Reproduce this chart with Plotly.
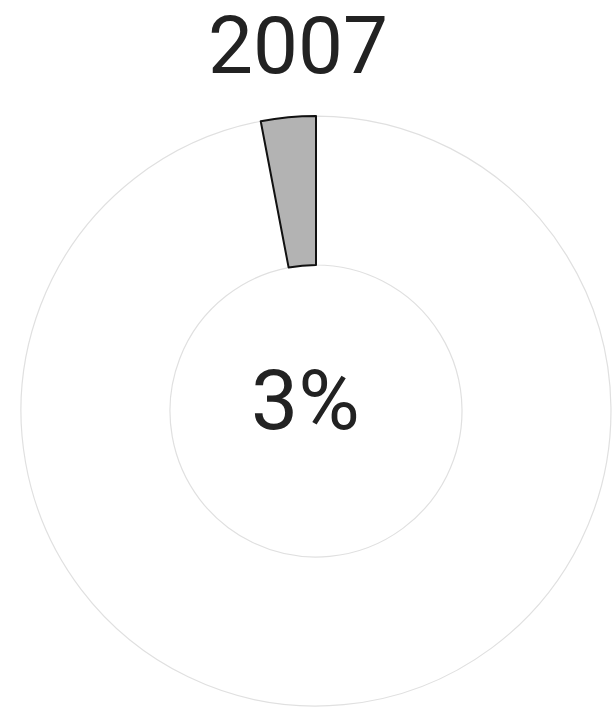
import plotly.graph_objects as go

# Share of the total in 2007 (the rest runs clockwise from 12 o'clock,
# so the share ends up just left of the top)
year = "2007"
labels = ["Rest", "Share"]
values = [97, 3]
center_text = "3%"

fig = go.Figure(
    go.Pie(
        labels=labels,
        values=values,
        hole=0.495,
        sort=False,
        direction="clockwise",
        rotation=0,
        textinfo="none",
        hoverinfo="label+percent",
        marker=dict(
            colors=["#ffffff", "#b3b3b3"],
            line=dict(color=["#e0e0e0", "#111111"], width=[1.2, 2]),
        ),
        domain=dict(x=[0.0343, 0.9967], y=[0.0042, 0.8364]),
        showlegend=False,
    )
)

fig.update_layout(
    width=613,
    height=709,
    margin=dict(l=0, r=0, t=0, b=0),
    paper_bgcolor="white",
    plot_bgcolor="white",
    font=dict(family="Roboto, sans-serif", color="#222222"),
    annotations=[
        dict(
            text=year, x=298 / 613, y=1 - 46 / 709, xref="paper", yref="paper",
            showarrow=False, font=dict(size=80, color="#222222"),
            xanchor="center", yanchor="middle",
        ),
        dict(
            text=center_text, x=305 / 613, y=1 - 400 / 709, xref="paper", yref="paper",
            showarrow=False, font=dict(size=84, color="#222222"),
            xanchor="center", yanchor="middle",
        ),
    ],
)

fig.write_html("out.html")
